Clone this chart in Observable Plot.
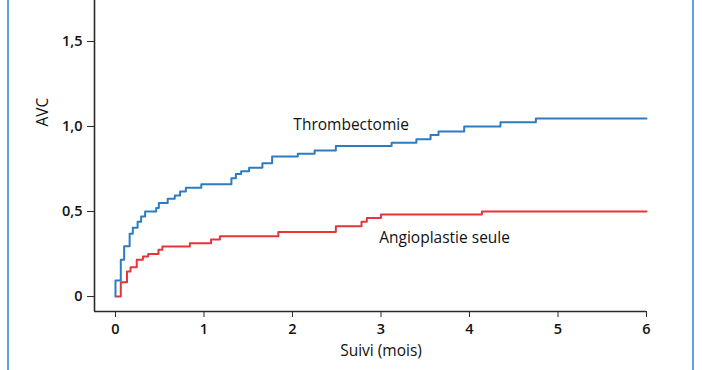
<!DOCTYPE html>
<html>
<head>
<meta charset="utf-8">
<script src="https://cdn.jsdelivr.net/npm/d3@7"></script>
<script src="https://cdn.jsdelivr.net/npm/@observablehq/plot@0.6"></script>
<style>
  html, body { margin: 0; padding: 0; background: #fff; }
  #wrap { position: relative; width: 702px; height: 370px; overflow: hidden; }
  .bl { position: absolute; top: 0; bottom: 0; width: 2px; background: #5aa6dc; }
  svg { font-family: "Open Sans", sans-serif; }
</style>
</head>
<body>
<div id="wrap">
  <div class="bl" style="left:7px"></div>
  <div class="bl" style="left:692px"></div>
</div>
<script>
// Thrombectomie: step times (months) and cumulative AVC values
const thrombT = [0, 0, 0.06, 0.098, 0.16, 0.196, 0.25, 0.29, 0.335, 0.46, 0.49, 0.59, 0.67, 0.73, 0.795, 0.97, 1.31, 1.36, 1.42, 1.51, 1.66, 1.77, 2.06, 2.25, 2.49, 3.12, 3.40, 3.56, 3.65, 3.94, 4.35, 4.75, 6.0];
const thrombV = [0, 0.094, 0.216, 0.296, 0.369, 0.404, 0.44, 0.47, 0.50, 0.52, 0.55, 0.575, 0.594, 0.618, 0.64, 0.66, 0.696, 0.72, 0.737, 0.757, 0.784, 0.824, 0.84, 0.859, 0.886, 0.904, 0.925, 0.95, 0.97, 1.0, 1.025, 1.047, 1.047];
// Angioplastie seule
const angioT = [0.01, 0.06, 0.13, 0.17, 0.24, 0.31, 0.37, 0.486, 0.53, 0.84, 1.08, 1.18, 1.84, 2.49, 2.78, 2.84, 3.0, 4.14, 6.0];
const angioV = [0, 0.084, 0.147, 0.172, 0.216, 0.235, 0.25, 0.275, 0.294, 0.314, 0.335, 0.355, 0.38, 0.414, 0.44, 0.462, 0.482, 0.5, 0.5];

const xTicks = [0, 1, 2, 3, 4, 5, 6];
const yTicks = [0, 0.5, 1.0, 1.5];
const yTickLabels = ["0", "0,5", "1,0", "1,5"];
const seriesNames = ["Thrombectomie", "Angioplastie seule"];
const xLabel = "Suivi (mois)";
const yLabel = "AVC";

const thromb = thrombT.map((t, i) => ({t, v: thrombV[i]}));
const angio = angioT.map((t, i) => ({t, v: angioV[i]}));

const xDomain = [-0.237, 6];
const yDomain = [-0.088, 1.741];
const axisColor = "#2a2a2a";

const chart = Plot.plot({
  width: 702,
  height: 370,
  marginLeft: 94,
  marginRight: 56,
  marginTop: 0,
  marginBottom: 59,
  style: {fontSize: "14px", fontFamily: "'Open Sans', sans-serif", background: "transparent", overflow: "visible"},
  x: {domain: xDomain, ticks: xTicks, label: null},
  y: {domain: yDomain, ticks: yTicks, label: null},
  marks: [
    Plot.ruleX([xDomain[0]], {stroke: axisColor, strokeWidth: 1.6}),
    Plot.ruleY([yDomain[0]], {x1: xDomain[0], x2: 6, stroke: axisColor, strokeWidth: 1.6}),
    Plot.axisX({ticks: xTicks, tickSize: 6, tickPadding: 6, stroke: axisColor, fill: "#111", fontWeight: 600, fontSize: 14.5, label: null, tickFormat: d => String(d)}),
    Plot.axisY({ticks: yTicks, tickSize: 7, tickPadding: 5, stroke: axisColor, fill: "#111", fontWeight: 600, fontSize: 14.5, label: null, tickFormat: d => yTickLabels[yTicks.indexOf(d)]}),
    Plot.line(angio, {x: "t", y: "v", curve: "step-after", stroke: "#e5353b", strokeWidth: 2}),
    Plot.line(thromb, {x: "t", y: "v", curve: "step-after", stroke: "#2b7cc0", strokeWidth: 2}),
    Plot.text([seriesNames[0]], {x: 2.01, y: 1.006, text: d => d, textAnchor: "start", fontSize: 15.5, fill: "#111"}),
    Plot.text([seriesNames[1]], {x: 2.98, y: 0.347, text: d => d, textAnchor: "start", fontSize: 15.5, fill: "#111"}),
    Plot.text([xLabel], {x: 3, frameAnchor: "bottom", dy: 44, text: d => d, fontSize: 15.5, fill: "#111"}),
    Plot.text([yLabel], {y: 1.0, frameAnchor: "left", dx: -51, rotate: -90, text: d => d, fontSize: 15.5, fill: "#111"})
  ]
});
chart.style.position = "absolute";
chart.style.left = "0";
chart.style.top = "0";
document.getElementById("wrap").appendChild(chart);
</script>
</body>
</html>
